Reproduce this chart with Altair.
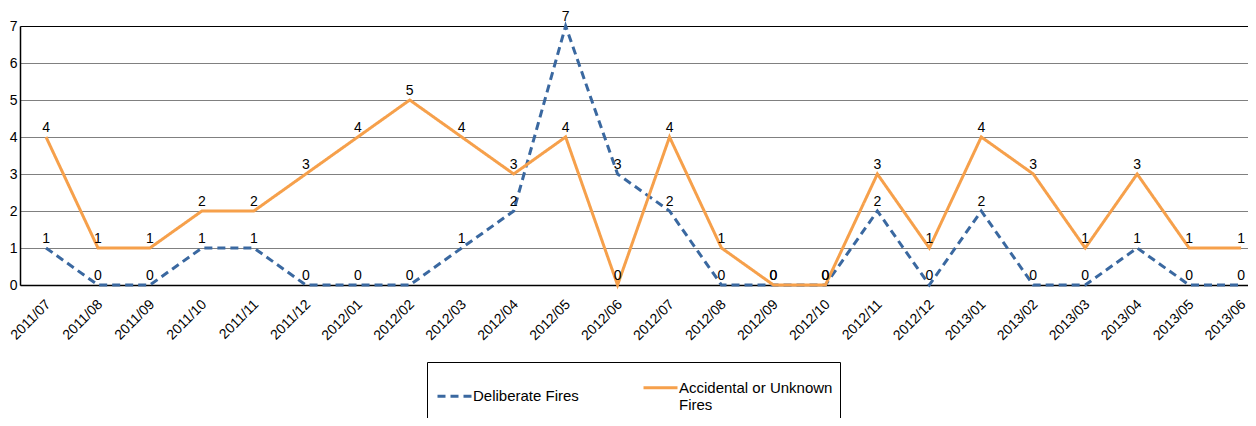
import altair as alt
import pandas as pd

months = ["2011/07", "2011/08", "2011/09", "2011/10", "2011/11", "2011/12",
          "2012/01", "2012/02", "2012/03", "2012/04", "2012/05", "2012/06",
          "2012/07", "2012/08", "2012/09", "2012/10", "2012/11", "2012/12",
          "2013/01", "2013/02", "2013/03", "2013/04", "2013/05", "2013/06"]
deliberate = [1, 0, 0, 1, 1, 0, 0, 0, 1, 2, 7, 3, 2, 0, 0, 0, 2, 0, 2, 0, 0, 1, 0, 0]
accidental = [4, 1, 1, 2, 2, 3, 4, 5, 4, 3, 4, 0, 4, 1, 0, 0, 3, 1, 4, 3, 1, 3, 1, 1]
series_names = ["Deliberate Fires", "Accidental or Unknown Fires"]
series_colors = ["#3A68A0", "#F6A04B"]
series_dash = [[8, 5], [1, 0]]
y_ticks = [0, 1, 2, 3, 4, 5, 6, 7]

rows = []
for i, m in enumerate(months):
    rows.append({"month": m, "series": series_names[0], "value": deliberate[i], "k": 0})
for i, m in enumerate(months):
    rows.append({"month": m, "series": series_names[1], "value": accidental[i], "k": 1})
df = pd.DataFrame(rows)

FONT = "Liberation Sans"

x_enc = alt.X("month:N", sort=months,
              scale=alt.Scale(type="point", padding=0.317, align=0.79),
              axis=alt.Axis(title=None, labelAngle=-45, labelAlign="right",
                            labelBaseline="middle", labelOffset=2, labelPadding=17,
                            labelFontSize=14, labelFont=FONT, labelColor="black",
                            labelOverlap=False, labelBound=False,
                            ticks=False, grid=False, domainColor="black",
                            domainWidth=1.5))
y_enc = alt.Y("value:Q", scale=alt.Scale(domain=[0, 7], nice=False),
              axis=alt.Axis(title=None, values=y_ticks, ticks=False,
                            labelOverlap=False, labelFlush=False,
                            labelPadding=3, labelFontSize=14, labelFont=FONT,
                            labelColor="black", domainColor="black", domainWidth=1.5,
                            gridColor={"condition": {"test": "datum.value == 7", "value": "black"},
                                       "value": "#808080"},
                            gridWidth=1, gridOpacity=1))

lines = alt.Chart(df).mark_line(strokeWidth=3).encode(
    x=x_enc,
    y=y_enc,
    color=alt.Color("series:N", sort=series_names,
                    scale=alt.Scale(domain=series_names, range=series_colors),
                    legend=alt.Legend(
                        title=None, orient="none", legendX=407, legendY=336,
                        direction="horizontal", columns=2, columnPadding=58,
                        symbolType="stroke", symbolSize=1156, symbolStrokeWidth=3,
                        symbolOffset=2,
                        labelOffset=0, labelFontSize=15, labelFont=FONT,
                        labelColor="black", labelLimit=300,
                        labelExpr="datum.label == 'Accidental or Unknown Fires' ? ['Accidental or Unknown', 'Fires'] : datum.label",
                        strokeColor="black", fillColor="white", padding=7)),
    strokeDash=alt.StrokeDash("series:N", sort=series_names,
                              scale=alt.Scale(domain=series_names, range=series_dash),
                              legend=None),
    order=alt.Order("k:Q"),
    detail="series:N",
)

labels = alt.Chart(df).mark_text(baseline="alphabetic", dy=-5, fontSize=14,
                                 font=FONT, color="black").encode(
    x=x_enc,
    y=y_enc,
    text=alt.Text("value:Q"),
)

chart = alt.layer(lines, labels).properties(
    width=1228, height=259,
    autosize=alt.AutoSizeParams(type="none"),
    padding={"left": 12, "top": 18, "right": 0, "bottom": 133},
).configure_view(stroke=None).configure(background="white")

chart.save("out.html", embed_options={"renderer": "svg", "actions": False})
